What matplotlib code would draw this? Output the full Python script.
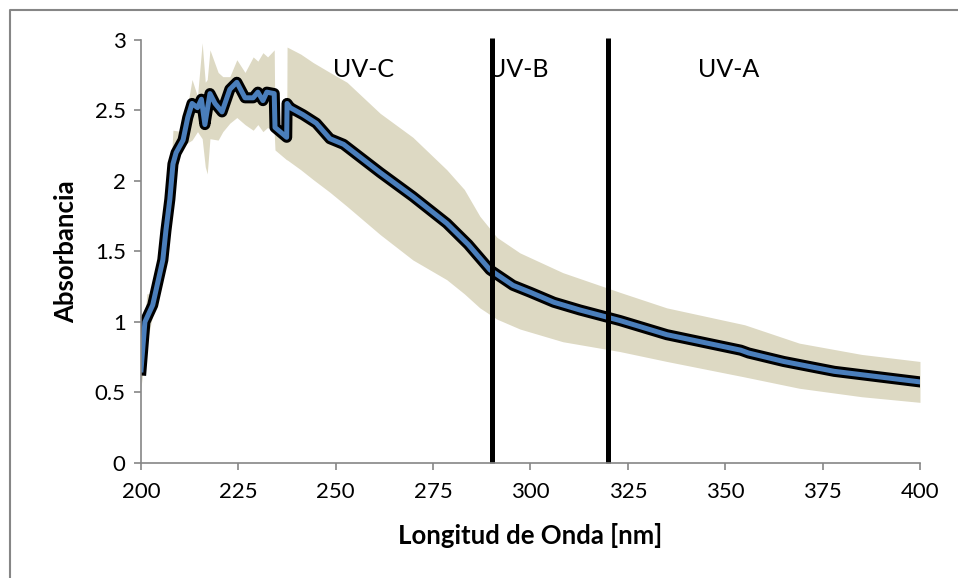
import numpy as np
import matplotlib
matplotlib.use('Agg')
import matplotlib.pyplot as plt
from matplotlib.lines import Line2D

plt.rcParams['font.family'] = ['Lato', 'DejaVu Sans']

# media de la absorbancia
wl = [200, 201, 203, 205.6, 206.4, 207.4, 208.2, 209, 210.8, 212, 213.1, 214.5,
      215.5, 216.4, 217.7, 219, 220.8, 222.8, 224.6, 226.7, 228.8, 230, 231.3,
      232.3, 234.2, 234.4, 237.4, 237.5, 238.3, 241.6, 245, 248.5, 252, 261.4,
      269.8, 278.5, 284, 289.6, 295.5, 300, 306, 312.7, 323, 335, 354, 356,
      365, 378, 400]
media = [0.66, 1.0, 1.12, 1.44, 1.65, 1.87, 2.12, 2.2, 2.29, 2.45, 2.55, 2.52,
         2.58, 2.40, 2.62, 2.55, 2.49, 2.65, 2.70, 2.59, 2.59, 2.63, 2.57,
         2.63, 2.62, 2.38, 2.31, 2.55, 2.52, 2.47, 2.41, 2.30, 2.26, 2.06,
         1.89, 1.70, 1.55, 1.37, 1.26, 1.21, 1.14, 1.085, 1.01, 0.91, 0.80, 0.78,
         0.72, 0.65, 0.575]

# banda de desviacion
wl_banda = [200, 201.5, 203, 205.6, 207.4, 208.2, 210.8, 213.1, 214.5, 215.7,
            216.5, 217, 217.7, 219.8, 221, 222.8, 224.6, 226.7, 228.8, 230,
            231.3, 232.5, 234.2, 234.4, 237.4, 237.5, 241, 244.2, 248.5, 252.9,
            261.4, 269.8, 278.5, 283, 287, 291.4, 297.3, 308.3, 323,
            335, 355, 369, 385, 400]
superior = [0.75, 1.2, 1.2, 1.5, 1.95, 2.36, 2.35, 2.72, 2.6, 2.98,
            2.7, 2.72, 2.93, 2.77, 2.74, 2.74, 2.86, 2.77, 2.88, 2.85,
            2.91, 2.88, 2.93, 2.38, 2.31, 2.95, 2.90, 2.84, 2.77, 2.70,
            2.48, 2.31, 2.08, 1.94, 1.75, 1.60, 1.49, 1.35, 1.21,
            1.10, 0.98, 0.85, 0.77, 0.72]
inferior = [0.54, 0.85, 1.05, 1.4, 1.8, 2.05, 2.25, 2.29, 2.35, 2.3,
            2.1, 2.05, 2.3, 2.29, 2.35, 2.41, 2.45, 2.40, 2.36, 2.4,
            2.35, 2.38, 2.34, 2.22, 2.15, 2.15, 2.08, 2.01, 1.92, 1.82,
            1.62, 1.44, 1.30, 1.20, 1.10, 1.02, 0.95, 0.86, 0.79,
            0.72, 0.61, 0.53, 0.47, 0.43]

limites = [290, 320]
regiones = ['UV-C', 'UV-B', 'UV-A']
pos_regiones = [257, 296.8, 351]

fig = plt.figure(figsize=(9.58, 5.78), dpi=100)
ax = fig.add_axes([0.1472, 0.1990, 0.8131, 0.7318])

ax.fill_between(wl_banda, inferior, superior, color='#DDD9C3', linewidth=0)
ax.plot(wl, media, color='black', linewidth=8, solid_joinstyle='round')
ax.plot(wl, media, color='#4A7EBB', linewidth=3.6, solid_joinstyle='round')

for l in limites:
    ax.plot([l, l], [0, 3.015], color='black', linewidth=3.6, clip_on=False,
            solid_capstyle='butt')

for r, p in zip(regiones, pos_regiones):
    ax.text(p, 2.79, r, ha='center', va='center', fontsize=18)

ax.set_xlim(200, 400)
ax.set_ylim(0, 3)
ax.set_xticks(np.arange(200, 401, 25))
ax.set_yticks([0, 0.5, 1, 1.5, 2, 2.5, 3])
ax.set_yticklabels(['0', '0.5', '1', '1.5', '2', '2.5', '3'])
for s in ['top', 'right']:
    ax.spines[s].set_visible(False)
for s in ['left', 'bottom']:
    ax.spines[s].set_color('#868686')
    ax.spines[s].set_linewidth(1.2)
ax.tick_params(colors='#868686', labelcolor='black', labelsize=16,
               length=5, width=1.2)
ax.tick_params(axis='x', pad=9)
ax.tick_params(axis='y', pad=6)

ax.set_xlabel('Longitud de Onda [nm]', fontsize=18.5, fontweight='bold', labelpad=15)
ax.set_ylabel('Absorbancia', fontsize=18.5, fontweight='bold', labelpad=12)

# marco del grafico
fig.add_artist(Line2D([9.5 / 958, 9.5 / 958, 1], [0, 1 - 10 / 578, 1 - 10 / 578],
                      color='#868686', linewidth=1.5))

fig.savefig('out.png', dpi=100)
